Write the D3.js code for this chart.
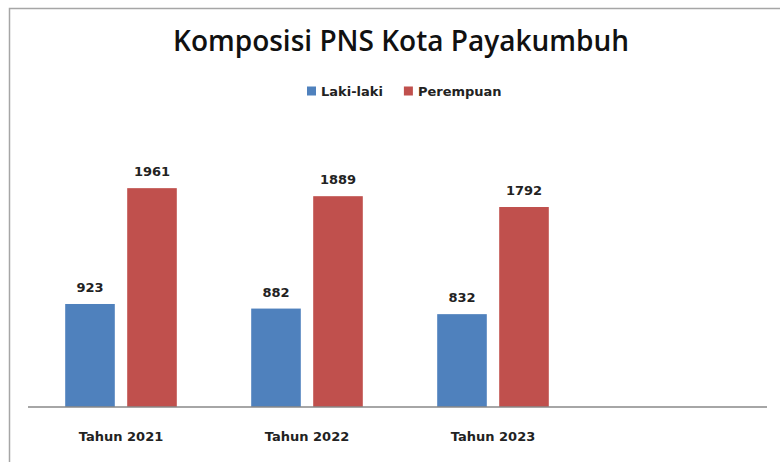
<!DOCTYPE html>
<html>
<head>
    <meta charset="utf-8" />
    <title>Komposisi PNS Kota Payakumbuh</title>
    <script src="https://d3js.org/d3.v7.min.js"></script>
    <style>
        body { margin: 0; background: #fff; }
        svg { display: block; }
    </style>
</head>
<body>
    <svg width="780" height="462"></svg>
    <script>
        // data
        var categories = ["Tahun 2021", "Tahun 2022", "Tahun 2023", ""];
        var seriesNames = ["Laki-laki", "Perempuan"];
        var lakiLaki = [923, 882, 832];
        var perempuan = [1961, 1889, 1792];
        var colors = ["#4f81bd", "#c0504d"];

        var svg = d3.select("svg"),
            width = +svg.attr("width"),
            height = +svg.attr("height");

        var margin = { left: 28, right: 8, top: 128, bottom: 55 };

        // chart frame (runs off the right and bottom edges)
        svg.append("rect")
            .attr("x", 9.5).attr("y", 8.5)
            .attr("width", 800).attr("height", 500)
            .attr("fill", "none")
            .attr("stroke", "#a6a6a6")
            .attr("stroke-width", 1.5);

        // title
        svg.append("text")
            .attr("x", 401).attr("y", 51)
            .attr("text-anchor", "middle")
            .style("font-family", "Open Sans")
            .style("font-size", "28px")
            .style("font-weight", 600)
            .style("fill", "#111")
            .text("Komposisi PNS Kota Payakumbuh");

        var x0 = d3.scaleBand()
            .domain(categories)
            .range([margin.left, width - margin.right])
            .paddingInner(0.4)
            .paddingOuter(0.2);

        var x1 = d3.scaleBand()
            .domain(seriesNames)
            .range([0, x0.bandwidth()])
            .paddingInner(0.2);

        var y = d3.scaleLinear()
            .domain([0, 2500])
            .range([height - margin.bottom, margin.top]);

        var rows = categories.slice(0, 3).map(function (c, i) {
            return { cat: c, values: [lakiLaki[i], perempuan[i]] };
        });

        var groups = svg.selectAll(".grp")
            .data(rows)
            .enter().append("g")
            .attr("class", "grp")
            .attr("transform", function (d) { return "translate(" + x0(d.cat) + ",0)"; });

        groups.selectAll("rect")
            .data(function (d) { return d.values.map(function (v, j) { return { s: seriesNames[j], v: v, j: j }; }); })
            .enter().append("rect")
            .attr("x", function (d) { return x1(d.s); })
            .attr("y", function (d) { return y(d.v); })
            .attr("width", x1.bandwidth())
            .attr("height", function (d) { return y(0) - y(d.v); })
            .attr("fill", function (d) { return colors[d.j]; });

        groups.selectAll(".val")
            .data(function (d) { return d.values.map(function (v, j) { return { s: seriesNames[j], v: v }; }); })
            .enter().append("text")
            .attr("class", "val")
            .attr("x", function (d) { return x1(d.s) + x1.bandwidth() / 2; })
            .attr("y", function (d) { return y(d.v) - 12; })
            .attr("text-anchor", "middle")
            .style("font-family", "DejaVu Sans")
            .style("font-size", "13px")
            .style("font-weight", "bold")
            .style("fill", "#222")
            .text(function (d) { return d.v; });

        // x axis
        var xAxis = svg.append("g")
            .attr("transform", "translate(0," + y(0) + ")")
            .call(d3.axisBottom(x0).tickSize(0).tickPadding(25));
        xAxis.select(".domain").attr("stroke", "#888").attr("stroke-width", 1.5)
            .attr("d", "M" + margin.left + ",0H" + (width - margin.right - 5));
        xAxis.selectAll("text")
            .style("font-family", "DejaVu Sans")
            .style("font-size", "13px")
            .style("font-weight", "bold")
            .style("fill", "#222");

        // legend
        var legend = svg.append("g").attr("transform", "translate(0,91)");
        var lx = 307;
        seriesNames.forEach(function (name, i) {
            legend.append("rect")
                .attr("x", lx).attr("y", -4.5)
                .attr("width", 9).attr("height", 9)
                .attr("fill", colors[i]);
            var t = legend.append("text")
                .attr("x", lx + 14).attr("y", 5)
                .style("font-family", "DejaVu Sans")
                .style("font-size", "13px")
                .style("font-weight", "bold")
                .style("fill", "#222")
                .text(name);
            lx += 14 + t.node().getComputedTextLength() + 21;
        });
    </script>
</body>
</html>
